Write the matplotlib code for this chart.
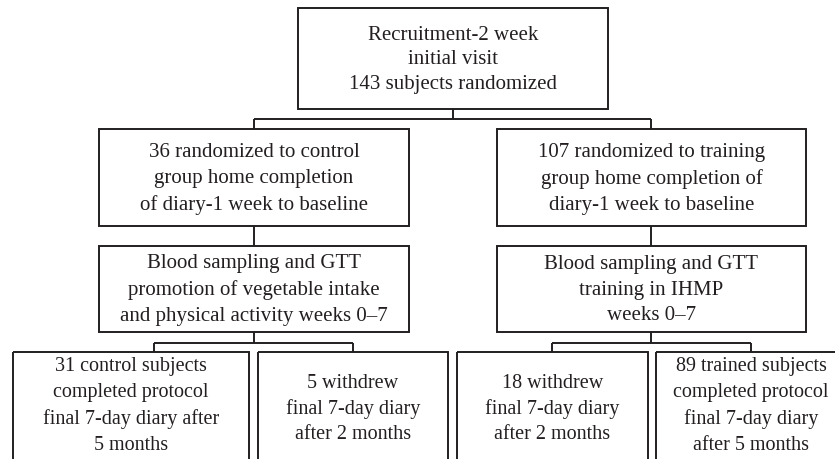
import matplotlib.pyplot as plt
from matplotlib.patches import Rectangle

# box texts of the flow chart
top_text = "Recruitment-2 week\ninitial visit\n143 subjects randomized"
group_texts = ["36 randomized to control\ngroup home completion\nof diary-1 week to baseline",
               "107 randomized to training\ngroup home completion of\ndiary-1 week to baseline"]
phase_texts = ["Blood sampling and GTT\npromotion of vegetable intake\nand physical activity weeks 0\u20137",
               "Blood sampling and GTT\ntraining in IHMP\nweeks 0\u20137"]
outcome_texts = ["31 control subjects\ncompleted protocol\nfinal 7-day diary after\n5 months",
                 "5 withdrew\nfinal 7-day diary\nafter 2 months",
                 "18 withdrew\nfinal 7-day diary\nafter 2 months",
                 "89 trained subjects\ncompleted protocol\nfinal 7-day diary\nafter 5 months"]

ink = "#231f20"
lw = 1.4
font = "Liberation Serif"

fig = plt.figure(figsize=(8.35, 4.59), dpi=100)
ax = fig.add_axes([0, 0, 1, 1])
ax.set_xlim(0, 835)
ax.set_ylim(459, 0)
ax.axis("off")


def box(x0, y0, x1, y1, text, size=15, ls=1.45, ty=None):
    ax.add_patch(Rectangle((x0, y0), x1 - x0, y1 - y0, fill=False,
                           edgecolor=ink, linewidth=lw, clip_on=True))
    if ty is None:
        ty = (y0 + y1) / 2
    ax.text((x0 + x1) / 2, ty, text, ha="center", va="center", fontsize=size,
            family=font, color=ink, linespacing=ls, clip_on=True)


def line(xs, ys):
    ax.plot(xs, ys, color=ink, linewidth=lw, solid_capstyle="butt")


# top box
box(298, 8, 608, 109, top_text, ls=1.41, ty=60)
line([453, 453], [109, 119])
line([254, 651], [119, 119])
line([254, 254], [119, 129])
line([651, 651], [119, 129])

# group boxes
box(99, 129, 409, 226, group_texts[0], ls=1.47, ty=179)
box(497, 129, 806, 226, group_texts[1], ls=1.47, ty=179)
line([254, 254], [226, 246])
line([651, 651], [226, 246])

# phase boxes
box(99, 246, 409, 332, phase_texts[0], ls=1.47, ty=290)
box(497, 246, 806, 332, phase_texts[1], ls=1.47, ty=290)

# split to outcomes
line([254, 254], [332, 343])
line([154, 353], [343, 343])
line([154, 154], [343, 352])
line([353, 353], [343, 352])
line([651, 651], [332, 343])
line([552, 751], [343, 343])
line([552, 552], [343, 352])
line([751, 751], [343, 352])

# outcome boxes (run past the bottom edge)
box(13, 352, 249, 470, outcome_texts[0], size=14.5, ls=1.5, ty=406)
box(258, 352, 448, 470, outcome_texts[1], size=14.5, ls=1.45, ty=409)
box(457, 352, 648, 470, outcome_texts[2], size=14.5, ls=1.45, ty=409)
box(656, 352, 846, 470, outcome_texts[3], size=14.5, ls=1.5, ty=406)

fig.savefig("out.png", dpi=100)
